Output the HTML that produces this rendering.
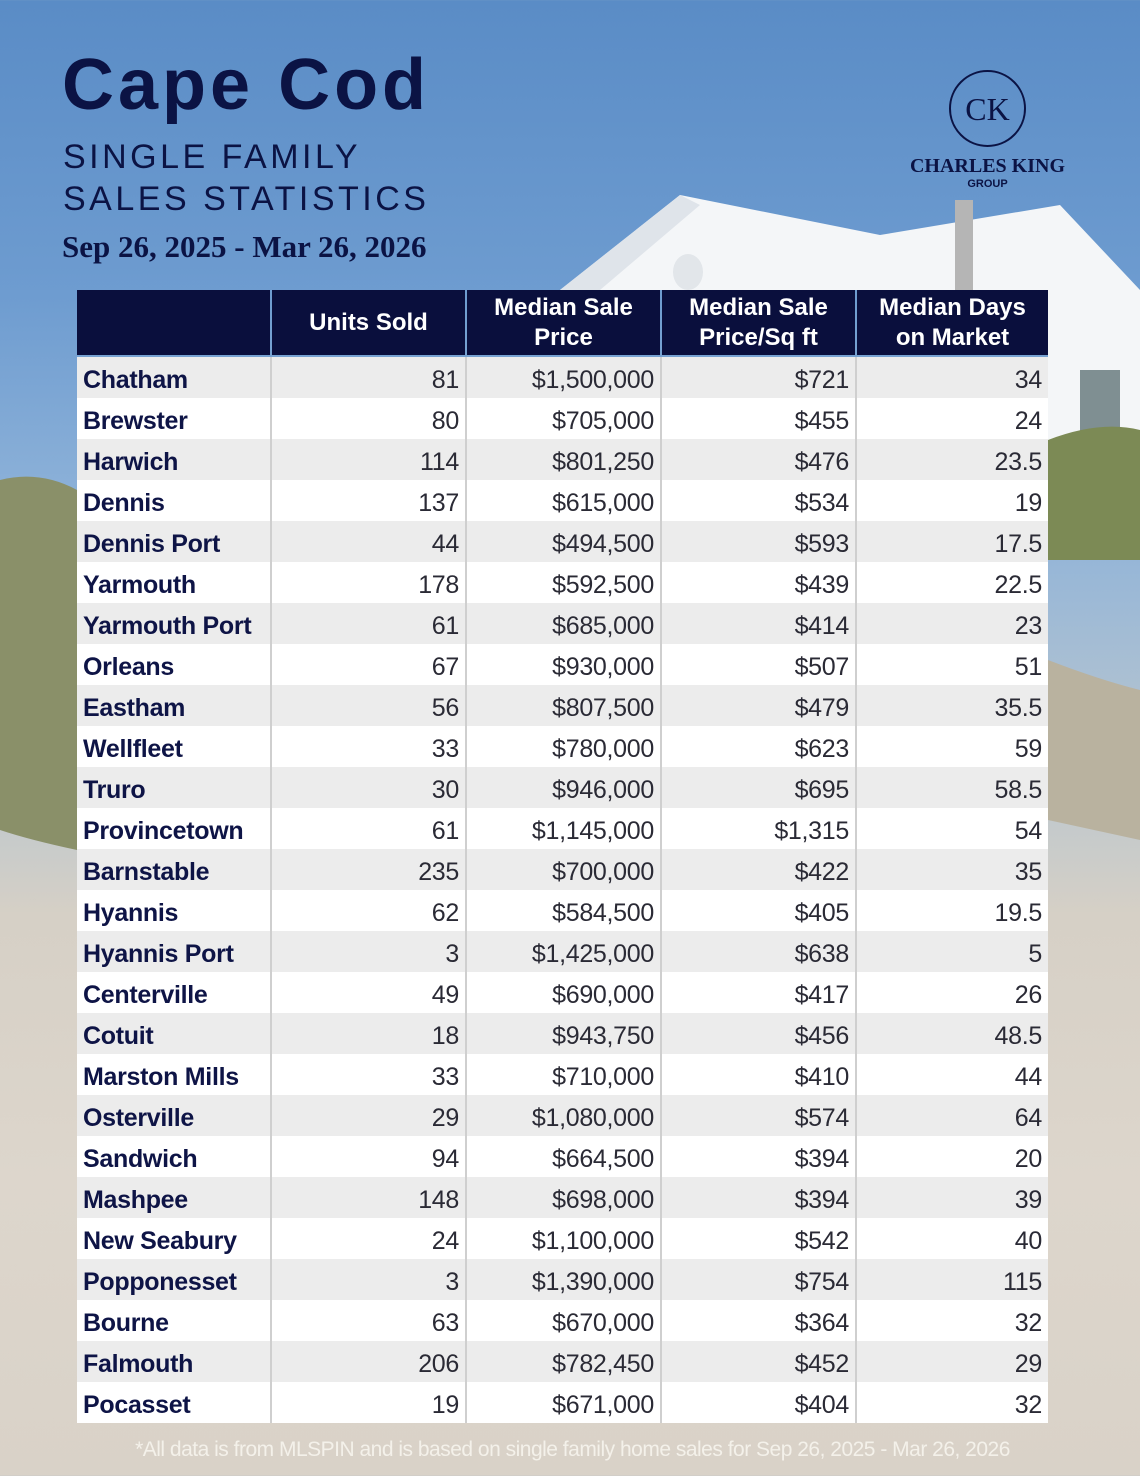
<!DOCTYPE html>
<html><head><meta charset="utf-8"><style>
*{margin:0;padding:0;box-sizing:border-box}
body{width:1140px;height:1476px;position:relative;overflow:hidden;font-family:"Liberation Sans",sans-serif;
background:linear-gradient(180deg,#5a8cc6 0%,#6e9cd0 20%,#8fb3d9 35%,#b9c6cf 52%,#d6d0c6 62%,#ddd6cc 80%,#d9d2c8 100%);}
.abs{position:absolute}
.t{position:absolute;left:77px;top:290px;width:971px}
.row{position:absolute;left:0;width:971px;height:41px;font-size:25px;line-height:46px}
.row div{position:absolute;top:0;height:41px;border-left:2px solid #cfcfcf;letter-spacing:-0.3px}
.c0{left:0;width:193px;padding-left:6px;font-weight:bold;color:#0e1446;border-left:none!important}
.c1{left:193px;width:195px;text-align:right;padding-right:6px;color:#2a2a35}
.c2{left:388px;width:195px;text-align:right;padding-right:6px;color:#2a2a35}
.c3{left:583px;width:195px;text-align:right;padding-right:6px;color:#2a2a35}
.c4{left:778px;width:193px;text-align:right;padding-right:6px;color:#2a2a35}
.hd{position:absolute;top:0;height:65px;background:#0a0f3d;color:#fff;font-weight:bold;font-size:24px;line-height:30px;text-align:center;display:flex;align-items:center;justify-content:center}
</style></head><body>
<svg class="abs" style="left:0;top:0" width="1140" height="1476">
<polygon points="560,290 680,195 880,235 1060,205 1140,290 1140,440 1048,440 1048,290" fill="#f4f6f8"/>
<polygon points="680,195 700,205 600,290 560,290" fill="#dfe4ea"/>
<rect x="955" y="200" width="18" height="90" fill="#b5b5b5"/>
<ellipse cx="688" cy="272" rx="15" ry="18" fill="#e2e6ea"/>
<rect x="1080" y="370" width="40" height="70" fill="#7f8f92"/>
<path d="M1048,440 Q1100,420 1140,430 L1140,560 L1048,560Z" fill="#7c8a55"/>
<path d="M0,480 Q40,470 77,490 L77,850 Q30,840 0,830Z" fill="#8a9069"/>
<path d="M1048,660 Q1100,680 1140,690 L1140,840 L1048,820Z" fill="#b9b29f"/>
</svg>
<div class="abs" style="left:62px;top:44px;font-size:72px;font-weight:bold;color:#0b1344;letter-spacing:4px">Cape Cod</div>
<div class="abs" style="left:63px;top:136px;font-size:34px;color:#0b1344;letter-spacing:3.5px;line-height:42px">SINGLE FAMILY<br>SALES STATISTICS</div>
<div class="abs" style="left:62px;top:229px;font-family:'Liberation Serif',serif;font-weight:bold;font-size:31px;color:#0b1344">Sep 26, 2025 - Mar 26, 2026</div>
<div class="abs" style="left:949px;top:70px;width:77px;height:77px;border:2px solid #0b1344;border-radius:50%;font-family:'Liberation Serif',serif;font-size:32px;color:#0b1344;text-align:center;line-height:75px">CK</div>
<div class="abs" style="left:895px;top:155px;width:185px;text-align:center;font-family:'Liberation Serif',serif;font-weight:bold;font-size:20px;color:#0b1344">CHARLES KING</div>
<div class="abs" style="left:895px;top:178px;width:185px;text-align:center;font-weight:bold;font-size:11px;color:#0b1344">GROUP</div>
<div class="t">
<div class="hd" style="left:0;width:193px"></div>
<div class="hd" style="left:195px;width:193px">Units Sold</div>
<div class="hd" style="left:390px;width:193px">Median Sale<br>Price</div>
<div class="hd" style="left:585px;width:193px">Median Sale<br>Price/Sq ft</div>
<div class="hd" style="left:780px;width:191px">Median Days<br>on Market</div>
</div>
<div class="abs" style="left:0;top:1438px;width:1145px;text-align:center;font-size:21px;color:#f4f1ea;letter-spacing:-0.5px">*All data is from MLSPIN and is based on single family home sales for Sep 26, 2025 - Mar 26, 2026</div>
<div class="t" style="top:357px">
<div class="row" style="top:0px;background:#ececec"><div class="c0">Chatham</div><div class="c1">81</div><div class="c2">$1,500,000</div><div class="c3">$721</div><div class="c4">34</div></div>
<div class="row" style="top:41px;background:#fff"><div class="c0">Brewster</div><div class="c1">80</div><div class="c2">$705,000</div><div class="c3">$455</div><div class="c4">24</div></div>
<div class="row" style="top:82px;background:#ececec"><div class="c0">Harwich</div><div class="c1">114</div><div class="c2">$801,250</div><div class="c3">$476</div><div class="c4">23.5</div></div>
<div class="row" style="top:123px;background:#fff"><div class="c0">Dennis</div><div class="c1">137</div><div class="c2">$615,000</div><div class="c3">$534</div><div class="c4">19</div></div>
<div class="row" style="top:164px;background:#ececec"><div class="c0">Dennis Port</div><div class="c1">44</div><div class="c2">$494,500</div><div class="c3">$593</div><div class="c4">17.5</div></div>
<div class="row" style="top:205px;background:#fff"><div class="c0">Yarmouth</div><div class="c1">178</div><div class="c2">$592,500</div><div class="c3">$439</div><div class="c4">22.5</div></div>
<div class="row" style="top:246px;background:#ececec"><div class="c0">Yarmouth Port</div><div class="c1">61</div><div class="c2">$685,000</div><div class="c3">$414</div><div class="c4">23</div></div>
<div class="row" style="top:287px;background:#fff"><div class="c0">Orleans</div><div class="c1">67</div><div class="c2">$930,000</div><div class="c3">$507</div><div class="c4">51</div></div>
<div class="row" style="top:328px;background:#ececec"><div class="c0">Eastham</div><div class="c1">56</div><div class="c2">$807,500</div><div class="c3">$479</div><div class="c4">35.5</div></div>
<div class="row" style="top:369px;background:#fff"><div class="c0">Wellfleet</div><div class="c1">33</div><div class="c2">$780,000</div><div class="c3">$623</div><div class="c4">59</div></div>
<div class="row" style="top:410px;background:#ececec"><div class="c0">Truro</div><div class="c1">30</div><div class="c2">$946,000</div><div class="c3">$695</div><div class="c4">58.5</div></div>
<div class="row" style="top:451px;background:#fff"><div class="c0">Provincetown</div><div class="c1">61</div><div class="c2">$1,145,000</div><div class="c3">$1,315</div><div class="c4">54</div></div>
<div class="row" style="top:492px;background:#ececec"><div class="c0">Barnstable</div><div class="c1">235</div><div class="c2">$700,000</div><div class="c3">$422</div><div class="c4">35</div></div>
<div class="row" style="top:533px;background:#fff"><div class="c0">Hyannis</div><div class="c1">62</div><div class="c2">$584,500</div><div class="c3">$405</div><div class="c4">19.5</div></div>
<div class="row" style="top:574px;background:#ececec"><div class="c0">Hyannis Port</div><div class="c1">3</div><div class="c2">$1,425,000</div><div class="c3">$638</div><div class="c4">5</div></div>
<div class="row" style="top:615px;background:#fff"><div class="c0">Centerville</div><div class="c1">49</div><div class="c2">$690,000</div><div class="c3">$417</div><div class="c4">26</div></div>
<div class="row" style="top:656px;background:#ececec"><div class="c0">Cotuit</div><div class="c1">18</div><div class="c2">$943,750</div><div class="c3">$456</div><div class="c4">48.5</div></div>
<div class="row" style="top:697px;background:#fff"><div class="c0">Marston Mills</div><div class="c1">33</div><div class="c2">$710,000</div><div class="c3">$410</div><div class="c4">44</div></div>
<div class="row" style="top:738px;background:#ececec"><div class="c0">Osterville</div><div class="c1">29</div><div class="c2">$1,080,000</div><div class="c3">$574</div><div class="c4">64</div></div>
<div class="row" style="top:779px;background:#fff"><div class="c0">Sandwich</div><div class="c1">94</div><div class="c2">$664,500</div><div class="c3">$394</div><div class="c4">20</div></div>
<div class="row" style="top:820px;background:#ececec"><div class="c0">Mashpee</div><div class="c1">148</div><div class="c2">$698,000</div><div class="c3">$394</div><div class="c4">39</div></div>
<div class="row" style="top:861px;background:#fff"><div class="c0">New Seabury</div><div class="c1">24</div><div class="c2">$1,100,000</div><div class="c3">$542</div><div class="c4">40</div></div>
<div class="row" style="top:902px;background:#ececec"><div class="c0">Popponesset</div><div class="c1">3</div><div class="c2">$1,390,000</div><div class="c3">$754</div><div class="c4">115</div></div>
<div class="row" style="top:943px;background:#fff"><div class="c0">Bourne</div><div class="c1">63</div><div class="c2">$670,000</div><div class="c3">$364</div><div class="c4">32</div></div>
<div class="row" style="top:984px;background:#ececec"><div class="c0">Falmouth</div><div class="c1">206</div><div class="c2">$782,450</div><div class="c3">$452</div><div class="c4">29</div></div>
<div class="row" style="top:1025px;background:#fff"><div class="c0">Pocasset</div><div class="c1">19</div><div class="c2">$671,000</div><div class="c3">$404</div><div class="c4">32</div></div>
</div>
</body></html>
